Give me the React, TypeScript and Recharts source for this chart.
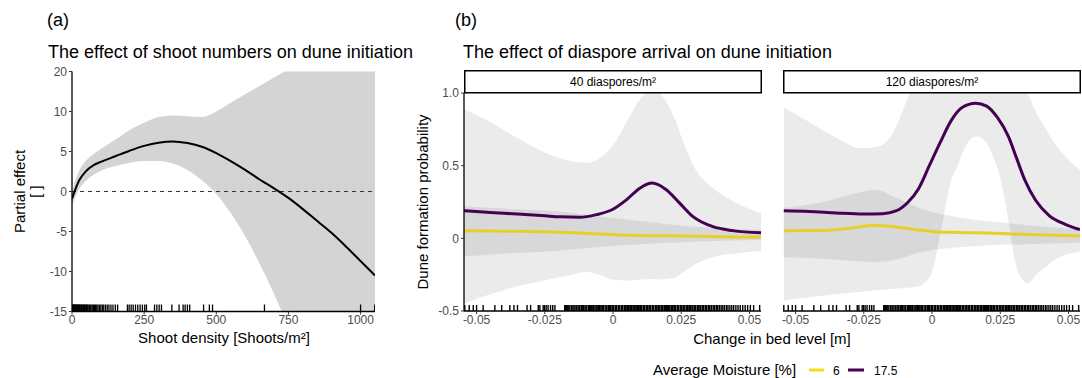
import React from 'react';
import { ComposedChart, Area, Line, Scatter, XAxis, YAxis, ReferenceLine } from 'recharts';

const FONT = '"Liberation Sans", Arial, Helvetica, sans-serif';
const TICK_COLOR = '#4D4D4D';
const YELLOW = '#E8CF26';
const PURPLE = '#440154';

// ---------------- Panel (a): shoot numbers ----------------
const shootDensity = [0, 25, 50, 75, 100, 150, 200, 250, 300, 350, 400, 450, 500, 550, 600, 650, 700, 750, 800, 850, 900, 950, 1000, 1050];
const shootFit = [-0.9, 1.4, 2.6, 3.3, 3.7, 4.4, 5.1, 5.7, 6.1, 6.25, 6.05, 5.6, 4.8, 3.8, 2.7, 1.5, 0.4, -0.8, -2.2, -3.7, -5.2, -6.9, -8.7, -10.5];
const shootLower = [-1.8, 0.3, 1.4, 2.1, 2.6, 3.2, 3.6, 3.8, 3.8, 3.5, 2.7, 1.4, -0.3, -2.7, -5.6, -9.0, -12.8, -17, -22, -27, -32.5, -38, -44, -50];
const shootUpper = [0.1, 2.6, 3.9, 4.7, 5.3, 6.5, 7.7, 8.6, 9.3, 9.5, 9.4, 9.3, 10.0, 12.2, 14.3, 16.4, 18.5, 20.6, 23, 26, 29, 32, 35, 38];
const shootRug = [0, 2, 4, 5, 7, 9, 10, 12, 14, 16, 18, 20, 22, 24, 26, 28, 31, 33, 35, 38, 40, 43, 45, 48, 50, 53, 56, 60, 63, 66, 70, 74, 78, 82, 86, 90, 95, 100, 105, 110, 116, 122, 128, 135, 142, 150, 158, 192, 198, 205, 212, 220, 228, 236, 244, 252, 258, 286, 294, 302, 310, 346, 371, 385, 392, 400, 408, 456, 476, 487, 667, 1000, 1049];
const shootTicks = [0, 250, 500, 750, 1000];
const effectTicks = [-15, -10, -5, 0, 5, 10, 20];

// y axis of panel (a) is compressed above 10
const effectScale = (v: number) => (v <= 10 ? v : 10 + (v - 10) / 2);
const effectDisplayTicks = effectTicks.map(effectScale);

// ---------------- Panel (b): diaspore arrival ----------------
const facetLabels = ['40 diaspores/m²', '120 diaspores/m²'];
const moistureLevels = ['6', '17.5'];
const bedTicks = [-0.05, -0.025, 0, 0.025, 0.05];
const bedTickLabels = ['-0.05', '-0.025', '0', '0.025', '0.05'];
const probTicks = [-0.5, 0, 0.5, 1];
const probTickLabels = ['-0.5', '0', '0.5', '1.0'];

// facet 40 diaspores/m²
const f40Moist6X = [-0.0546, -0.035, -0.022, -0.01, 0.0025, 0.015, 0.027, 0.04, 0.0542];
const f40Moist6 = [0.053, 0.048, 0.044, 0.035, 0.023, 0.018, 0.016, 0.011, 0.007];
const f40Moist17X = [-0.0546, -0.045, -0.035, -0.025, -0.0195, -0.0122, -0.0061, 0, 0.0049, 0.0098, 0.0143, 0.0195, 0.0244, 0.0293, 0.0366, 0.0439, 0.0542];
const f40Moist17 = [0.19, 0.178, 0.167, 0.155, 0.148, 0.145, 0.163, 0.2, 0.265, 0.345, 0.38, 0.334, 0.242, 0.149, 0.08, 0.053, 0.038];
const f40Band6X = [-0.0546, -0.035, -0.0195, -0.005, 0.01, 0.027, 0.0542];
const f40Band6Lo = [-0.125, -0.1, -0.085, -0.06, -0.04, -0.025, -0.012];
const f40Band6Hi = [0.22, 0.2, 0.184, 0.15, 0.12, 0.085, 0.057];
const f40Band17X = [-0.0546, -0.045, -0.035, -0.025, -0.015, -0.01, -0.005, 0, 0.005, 0.01, 0.014, 0.018, 0.022, 0.026, 0.03, 0.035, 0.04, 0.045, 0.0542];
const f40Band17Lo = [-0.45, -0.385, -0.33, -0.29, -0.25, -0.232, -0.25, -0.285, -0.29, -0.283, -0.28, -0.283, -0.275, -0.23, -0.18, -0.14, -0.115, -0.104, -0.088];
const f40Band17Hi = [0.89, 0.8, 0.69, 0.59, 0.53, 0.52, 0.55, 0.64, 0.8, 0.96, 1.02, 0.98, 0.85, 0.65, 0.48, 0.37, 0.3, 0.245, 0.173];

// facet 120 diaspores/m²
const f120Moist6X = [-0.0543, -0.04, -0.03, -0.021, -0.012, -0.005, 0.001, 0.01, 0.023, 0.035, 0.0542];
const f120Moist6 = [0.053, 0.054, 0.07, 0.09, 0.075, 0.058, 0.046, 0.04, 0.035, 0.026, 0.016];
const f120Moist17X = [-0.0543, -0.045, -0.035, -0.025, -0.018, -0.013, -0.009, -0.005, -0.001, 0.003, 0.007, 0.011, 0.016, 0.02, 0.024, 0.028, 0.031, 0.034, 0.038, 0.043, 0.049, 0.0542];
const f120Moist17 = [0.19, 0.185, 0.175, 0.168, 0.17, 0.19, 0.245, 0.34, 0.5, 0.66, 0.81, 0.9, 0.93, 0.91, 0.83, 0.7, 0.55, 0.4, 0.26, 0.155, 0.095, 0.06];
const f120Band6X = [-0.0543, -0.04, -0.03, -0.021, -0.012, -0.005, 0.005, 0.015, 0.025, 0.035, 0.045, 0.0542];
const f120Band6Lo = [-0.13, -0.14, -0.155, -0.165, -0.14, -0.1, -0.07, -0.055, -0.045, -0.04, -0.035, -0.03];
const f120Band6Hi = [0.21, 0.25, 0.3, 0.335, 0.27, 0.21, 0.16, 0.13, 0.11, 0.09, 0.075, 0.06];
const f120Band17X = [-0.0543, -0.045, -0.035, -0.026, -0.02, -0.016, -0.012, -0.009, -0.006, -0.003, 0, 0.0033, 0.007, 0.0094, 0.0125, 0.0161, 0.0195, 0.0228, 0.0252, 0.028, 0.0301, 0.0325, 0.035, 0.0386, 0.0415, 0.0447, 0.048, 0.0542];
const f120Band17Lo = [-0.427, -0.405, -0.385, -0.368, -0.358, -0.35, -0.345, -0.34, -0.335, -0.31, -0.23, 0.057, 0.4, 0.5, 0.64, 0.7, 0.67, 0.54, 0.4, 0.12, -0.127, -0.27, -0.31, -0.242, -0.2, -0.15, -0.12, -0.092];
const f120Band17Hi = [0.9, 0.8, 0.69, 0.62, 0.63, 0.68, 0.82, 0.96, 1.06, 1.15, 1.25, 1.32, 1.4, 1.45, 1.5, 1.52, 1.5, 1.45, 1.38, 1.28, 1.2, 1.1, 1.0, 0.85, 0.76, 0.66, 0.58, 0.47];

const bedRug = [-0.0543, -0.0527, -0.0512, -0.05, -0.0476, -0.0433, -0.0408, -0.0378, -0.0363, -0.035, -0.0315, -0.0302, -0.0274, -0.0268, -0.0256, -0.0251, -0.0245, -0.0238, -0.0229, -0.0221, -0.0213,
  -0.0177, -0.0174, -0.0171, -0.0166, -0.0162, -0.0158, -0.0152, -0.0147, -0.0143, -0.0139, -0.0133, -0.0128, -0.0124, -0.0121, -0.0115, -0.0111, -0.0108, -0.0103, -0.0099, -0.0096, -0.009, -0.0087, -0.0083, -0.0078, -0.0074, -0.0071, -0.0066, -0.0062, -0.0058, -0.0053, -0.005, -0.0047, -0.0041, -0.0038, -0.0035, -0.0029, -0.0025, -0.0022, -0.0016, -0.0013, -0.001, -0.0004, -0.0001, 0.0002, 0.0008, 0.0011, 0.0013, 0.0019, 0.0022, 0.0025, 0.0031, 0.0034, 0.0036, 0.0042, 0.0045, 0.0048, 0.0053, 0.0056, 0.0059, 0.0064, 0.0067, 0.007, 0.0076, 0.0079, 0.0081, 0.0087, 0.009, 0.0093, 0.0098, 0.0101, 0.0104, 0.011, 0.0113, 0.0115, 0.0121, 0.0124, 0.0127, 0.0132, 0.0135, 0.0138, 0.0144, 0.0147, 0.0149, 0.0155, 0.0158, 0.0161, 0.0166, 0.0169, 0.0172, 0.0178, 0.0181, 0.0183, 0.0189, 0.0192, 0.0195, 0.02, 0.0203, 0.0206, 0.0212, 0.0215, 0.0218, 0.0223, 0.0226, 0.0229, 0.0235, 0.0238, 0.024, 0.0246, 0.0249, 0.0252, 0.0257, 0.026, 0.0263, 0.0269, 0.0272, 0.0275, 0.028, 0.0283, 0.0286, 0.0292, 0.0297, 0.03, 0.0303, 0.0309, 0.0312, 0.0315, 0.032, 0.0326, 0.0329, 0.0332, 0.0338, 0.0343, 0.0349, 0.0352, 0.0355, 0.0361, 0.0367, 0.0372, 0.0378, 0.0381, 0.0384, 0.039, 0.0396, 0.0402, 0.0408, 0.0415, 0.0421, 0.0428, 0.0435, 0.0442, 0.045, 0.0458, 0.0466, 0.0475, 0.0484, 0.0493, 0.0503, 0.0515, 0.0537];

const zipLine = (xs: number[], ys: number[]) => xs.map((x, i) => ({ x, y: ys[i] }));
const zipBand = (xs: number[], lo: number[], hi: number[]) => xs.map((x, i) => ({ x, band: [lo[i], hi[i]] }));

const makeRug = (h: number, w: number) => (props: any) => {
  const { cx, cy } = props;
  if (cx == null || cy == null) return <g />;
  return <line x1={cx} x2={cx} y1={cy} y2={cy - h} stroke="#000" strokeWidth={w} />;
};

const tickStyle = { fill: TICK_COLOR, fontSize: 12, fontFamily: FONT };

function PanelA() {
  const bandData = shootDensity.map((x, i) => ({ x, band: [effectScale(shootLower[i]), effectScale(shootUpper[i])] }));
  const fitData = shootDensity.map((x, i) => ({ x, y: effectScale(shootFit[i]) }));
  const rugData = shootRug.map((x) => ({ x, y: -15 }));
  return (
    <ComposedChart width={400} height={378} margin={{ top: 71.5, right: 25, bottom: 36.5, left: 32 }}>
      <XAxis dataKey="x" type="number" domain={[0, 1050]} allowDataOverflow ticks={shootTicks} interval={0}
        tick={tickStyle} tickSize={3} tickMargin={1} tickLine={{ stroke: '#333' }} axisLine={{ stroke: '#000', strokeWidth: 1.3 }} height={30} />
      <YAxis type="number" domain={[-15, 15]} allowDataOverflow ticks={effectDisplayTicks} interval={0} width={40}
        tickFormatter={(d: number) => { const i = effectDisplayTicks.indexOf(d); return i >= 0 ? String(effectTicks[i]) : ''; }}
        tick={tickStyle} tickSize={3} tickLine={{ stroke: '#333' }} axisLine={{ stroke: '#000', strokeWidth: 1.3 }} />
      <Area data={bandData} dataKey="band" type="monotone" fill="#D4D4D4" fillOpacity={1} stroke="none" isAnimationActive={false} />
      <ReferenceLine y={0} stroke="#333" strokeDasharray="4 4" strokeWidth={1} />
      <Line data={fitData} dataKey="y" type="monotone" stroke="#000" strokeWidth={2} dot={false} isAnimationActive={false} />
      <Scatter data={rugData} dataKey="y" shape={makeRug(7, 1.3)} isAnimationActive={false} />
    </ComposedChart>
  );
}

function Facet(props: any) {
  const { width, margin, showY, m6X, m6, m17X, m17, b6X, b6Lo, b6Hi, b17X, b17Lo, b17Hi } = props;
  const rugData = bedRug.map((x) => ({ x, y: -0.5 }));
  return (
    <ComposedChart width={width} height={378} margin={margin}>
      <XAxis dataKey="x" type="number" domain={[-0.0546, 0.0542]} allowDataOverflow ticks={bedTicks} interval={0}
        tickFormatter={(d: number) => { const i = bedTicks.indexOf(d); return i >= 0 ? bedTickLabels[i] : ''; }}
        tick={tickStyle} tickSize={3} tickMargin={1} tickLine={{ stroke: '#333' }} axisLine={{ stroke: '#000', strokeWidth: 1.3 }} height={30} />
      <YAxis type="number" domain={[-0.5, 1]} allowDataOverflow ticks={probTicks} interval={0} width={40} hide={!showY}
        tickFormatter={(d: number) => { const i = probTicks.indexOf(d); return i >= 0 ? probTickLabels[i] : ''; }}
        tick={tickStyle} tickSize={3} tickLine={{ stroke: '#333' }} axisLine={{ stroke: '#000', strokeWidth: 1.3 }} />
      <Area data={zipBand(b17X, b17Lo, b17Hi)} dataKey="band" type="monotone" fill="#000" fillOpacity={0.08} stroke="none" isAnimationActive={false} />
      <Area data={zipBand(b6X, b6Lo, b6Hi)} dataKey="band" type="monotone" fill="#000" fillOpacity={0.08} stroke="none" isAnimationActive={false} />
      <Line data={zipLine(m6X, m6)} dataKey="y" type="monotone" stroke={YELLOW} strokeWidth={3} dot={false} isAnimationActive={false} />
      <Line data={zipLine(m17X, m17)} dataKey="y" type="monotone" stroke={PURPLE} strokeWidth={3} dot={false} isAnimationActive={false} />
      <Scatter data={rugData} dataKey="y" shape={makeRug(6, 1.4)} isAnimationActive={false} />
    </ComposedChart>
  );
}

function Overlay() {
  const t = { fontFamily: FONT, fill: '#000' } as any;
  return (
    <svg width={1082} height={378} style={{ position: 'absolute', left: 0, top: 0, pointerEvents: 'none' }}>
      <text x={47} y={26} fontSize={18} {...t}>(a)</text>
      <text x={48} y={58} fontSize={18} {...t}>The effect of shoot numbers on dune initiation</text>
      <text x={455} y={26} fontSize={18} {...t}>(b)</text>
      <text x={463} y={58} fontSize={18} {...t}>The effect of diaspore arrival on dune initiation</text>

      <text x={224} y={343} fontSize={15} textAnchor="middle" {...t}>Shoot density [Shoots/m²]</text>
      <text x={25} y={191.5} fontSize={15} textAnchor="middle" transform="rotate(-90 25 191.5)" {...t}>Partial effect</text>
      <text x={41} y={191.5} fontSize={15} textAnchor="middle" transform="rotate(-90 41 191.5)" {...t}>[ ]</text>

      <text x={428} y={202} fontSize={15} textAnchor="middle" transform="rotate(-90 428 202)" {...t}>Dune formation probability</text>
      <text x={772} y={344} fontSize={15} textAnchor="middle" {...t}>Change in bed level [m]</text>

      <rect x={464.75} y={70.75} width={296.5} height={22} fill="#fff" stroke="#000" strokeWidth={1.5} />
      <text x={613} y={86} fontSize={12} textAnchor="middle" {...t}>{facetLabels[0]}</text>
      <rect x={783.75} y={70.75} width={296.5} height={22} fill="#fff" stroke="#000" strokeWidth={1.5} />
      <text x={932} y={86} fontSize={12} textAnchor="middle" {...t}>{facetLabels[1]}</text>

      <text x={653} y={374.5} fontSize={15} {...t}>Average Moisture [%]</text>
      <line x1={809} x2={824} y1={370} y2={370} stroke="#F5DC1F" strokeWidth={3} />
      <text x={833} y={374.5} fontSize={12} {...t}>{moistureLevels[0]}</text>
      <line x1={848} x2={864} y1={370} y2={370} stroke={PURPLE} strokeWidth={3} />
      <text x={874} y={374.5} fontSize={12} {...t}>{moistureLevels[1]}</text>
    </svg>
  );
}

export default function App() {
  return (
    <div style={{ position: 'absolute', left: 0, top: 0, width: 1082, height: 378, background: '#fff', fontFamily: FONT, overflow: 'hidden' }}>
      <div style={{ position: 'absolute', left: 0, top: 0 }}>
        <PanelA />
      </div>
      <div style={{ position: 'absolute', left: 400, top: 0 }}>
        <Facet width={365} margin={{ top: 93, right: 4, bottom: 37, left: 24 }} showY
          m6X={f40Moist6X} m6={f40Moist6} m17X={f40Moist17X} m17={f40Moist17}
          b6X={f40Band6X} b6Lo={f40Band6Lo} b6Hi={f40Band6Hi}
          b17X={f40Band17X} b17Lo={f40Band17Lo} b17Hi={f40Band17Hi} />
      </div>
      <div style={{ position: 'absolute', left: 765, top: 0 }}>
        <Facet width={317} margin={{ top: 93, right: 2, bottom: 37, left: 18 }} showY={false}
          m6X={f120Moist6X} m6={f120Moist6} m17X={f120Moist17X} m17={f120Moist17}
          b6X={f120Band6X} b6Lo={f120Band6Lo} b6Hi={f120Band6Hi}
          b17X={f120Band17X} b17Lo={f120Band17Lo} b17Hi={f120Band17Hi} />
      </div>
      <Overlay />
    </div>
  );
}
